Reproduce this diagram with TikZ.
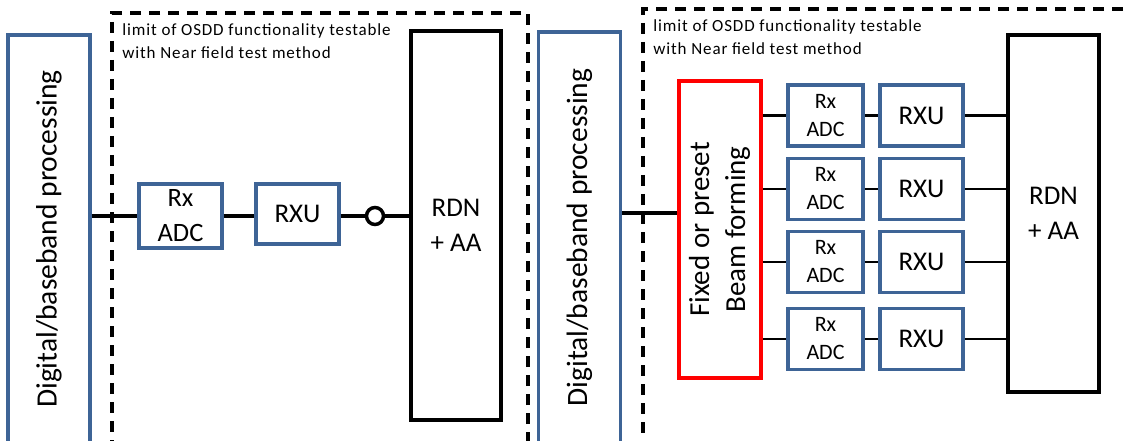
\documentclass[tikz,border=0pt]{standalone}
\usepackage{fontspec}
\setmainfont{Carlito}
\usepackage{graphicx}
\usepackage{xcolor}
\usetikzlibrary{positioning}

\definecolor{boxblue}{RGB}{62,100,150}

\begin{document}
\begin{tikzpicture}[
    x=1pt, y=-1pt,
    bluebox/.style={draw=boxblue,line width=3.2pt,inner sep=0pt,align=center,
                    font=\fontsize{27}{30}\selectfont},
    digbox/.style={bluebox,minimum width=82pt,font=\fontsize{29.5}{30}\selectfont},
    rxbox/.style={bluebox,font=\fontsize{26.5}{35}\selectfont},
    rxsmall/.style={bluebox,font=\fontsize{22}{28}\selectfont},
    rdnbox/.style={draw,line width=4pt,inner sep=0pt,align=center,
                   font=\fontsize{27}{35}\selectfont},
    bfbox/.style={draw=red,line width=3.5pt,inner sep=0pt,
                  font=\fontsize{29}{36}\selectfont},
    limitbox/.style={draw,dash pattern=on 11pt off 8pt,line width=3.5pt,inner sep=0pt},
    limitlabel/.style={inner sep=0pt,align=left,anchor=north west,
                       font=\fontsize{17}{23}\selectfont\addfontfeature{LetterSpace=5}},
    portnode/.style={circle,draw,line width=3.5pt,fill=white,minimum size=17pt,inner sep=0pt},
    wire/.style={line width=4pt},
    thinwire/.style={line width=2.2pt},
  ]
  \useasboundingbox (0,0) rectangle (1125,441);
  \clip (0,0) rectangle (1125,441);

  % --- test limits ---
  \node[limitbox,minimum width=416pt,minimum height=432pt] (lim1) at (320,229) {};
  \node[limitbox,minimum width=497pt,minimum height=436pt] (lim2) at (891.5,227) {};
  \node[limitlabel] (lab1) at ([xshift=12pt,yshift=-12pt]lim1.north west)
    {limit of OSDD functionality testable\\with Near field test method};
  \node[limitlabel] (lab2) at ([xshift=12pt,yshift=-12pt]lim2.north west)
    {limit of OSDD functionality testable\\with Near field test method};

  % --- left: single chain ---
  \node[digbox,minimum height=408pt] (dig1) at (49,239)
    {\rotatebox{90}{Digital/baseband processing}};
  \node[rxbox,minimum width=83pt,minimum height=64pt] (adc1) at (180.5,216) {Rx\\ADC};
  \node[bluebox,minimum width=83pt,minimum height=60pt] (rxu1) at (297.5,214) {RXU};
  \node[portnode] (port1) at (375,216) {};
  \node[rdnbox,minimum width=90pt,minimum height=389pt] (rdn1) at (456,225.5) {RDN\\+ AA};

  \draw[wire] (adc1.west -| dig1.east) -- (adc1.west);
  \draw[wire] (adc1) -- (adc1 -| rxu1.west);
  \draw[wire] (port1 -| rxu1.east) -- (port1);
  \draw[wire] (port1) -- (port1 -| rdn1.west);

  % --- right: preset beam forming with four chains ---
  \node[digbox,minimum height=411pt] (dig2) at (579.5,237.5)
    {\rotatebox{90}{Digital/baseband processing}};
  \node[bfbox,minimum width=82pt,minimum height=297pt] (bf) at (720,229.5)
    {\rotatebox{90}{\begin{tabular}{@{}c@{}}Fixed or preset\\Beam forming\end{tabular}}};
  \node[rdnbox,minimum width=91pt,minimum height=357pt] (rdn2) at (1053.5,213.5) {RDN\\+ AA};

  \foreach \i/\y in {1/115.5,2/189,3/262,4/339} {
    \node[rxsmall,minimum width=75pt,minimum height=61pt] (adc2\i) at (825.5,\y) {Rx\\ADC};
    \node[bluebox,minimum width=83pt,minimum height=61pt] (rxu2\i) at (921.5,\y) {RXU};
  }

  \coordinate (bfin) at (bf.west |- 0,213);
  \draw[wire] (bfin -| dig2.east) -- (bfin);
  \foreach \i in {1,...,4} {
    \draw[thinwire] (adc2\i -| bf.east) -- (adc2\i);
    \draw[thinwire] (adc2\i) -- (rxu2\i);
    \draw[thinwire] (rxu2\i) -- (rxu2\i -| rdn2.west);
  }

\end{tikzpicture}
\end{document}
